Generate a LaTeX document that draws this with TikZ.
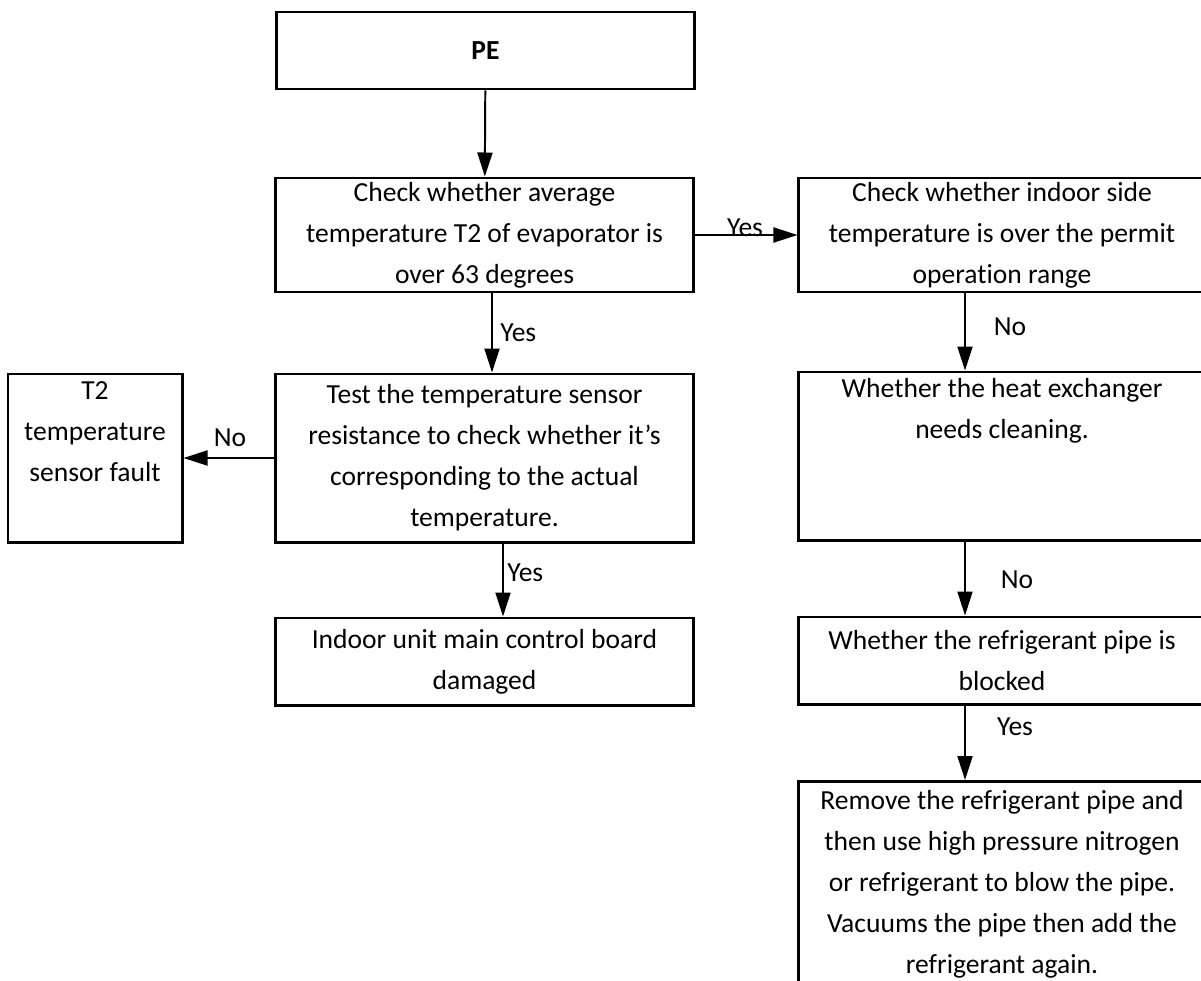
\documentclass[tikz,border=0pt]{standalone}
\usepackage{fontspec}
\setmainfont{Carlito}[Ligatures=NoCommon]
\usetikzlibrary{arrows.meta}
\newcommand\flowfont{\fontsize{19.6}{29.16}\selectfont}

\begin{document}
\begin{tikzpicture}[x=0.025cm, y=-0.025cm,
  every node/.style={font=\flowfont},
  box/.style={draw, line width=2.1pt, align=center, inner sep=0pt},
  midbox/.style={box, minimum width=10.425cm},
  rbox/.style={box, minimum width=10.15cm},
  arr/.style={line width=1.4pt, -{Triangle[length=0.6cm,width=0.375cm]}},
  lbl/.style={inner sep=0pt}]
\path[use as bounding box, clip] (0,0) rectangle (1201,980);

\node[midbox, minimum height=1.925cm, font=\flowfont\bfseries] (pe) at (485.5,50.5) {PE};
\node[midbox, minimum height=2.85cm] (check) at (484.5,235) {Check whether average\\temperature T2 of evaporator is\\over 63 degrees};
\node[rbox, minimum height=2.85cm] (side) at (1002,235) {Check whether indoor side\\temperature is over the permit\\operation range};
\node[midbox, minimum height=4.2cm] (test) at (484.5,458) {Test the temperature sensor\\resistance to check whether it’s\\corresponding to the actual\\temperature.};
\node[box, minimum width=4.35cm, minimum height=4.2cm] (sensor) at (95,458) {T2\\temperature\\sensor fault\\\strut};
\node[rbox, minimum height=4.2cm] (heat) at (1002,456) {Whether the heat exchanger\\needs cleaning.\\\strut\\\strut};
\node[midbox, minimum height=2.175cm] (board) at (484.5,661.5) {Indoor unit main control board\\damaged};
\node[rbox, minimum height=2.175cm] (pipe) at (1002,660.5) {Whether the refrigerant pipe is\\blocked};
\node[rbox, minimum height=5.15cm, anchor=north] (blow) at (1002,780) {Remove the refrigerant pipe and\\then use high pressure nitrogen\\or refrigerant to blow the pipe.\\Vacuums the pipe then add the\\refrigerant again.};

\coordinate (c1) at (492,0);
\coordinate (c2) at (503,0);
\coordinate (c3) at (965,0);

\draw[arr] (pe) -- (check);
\draw[arr] (check.east) -- (side.west);
\draw[arr] (check.south -| c1) -- (test.north -| c1);
\draw[arr] (test.west) -- (sensor.east);
\draw[arr] (test.south -| c2) -- (board.north -| c2);
\draw[arr] (side.south -| c3) -- (heat.north -| c3);
\draw[arr] (heat.south -| c3) -- (pipe.north -| c3);
\draw[arr] (pipe.south -| c3) -- (blow.north -| c3);

\node[lbl, anchor=base] (yesright) at (745,236) {Yes};
\node[lbl, anchor=west] (yestest) at (500,333) {Yes};
\node[lbl] (nosensor) at (230,438) {No};
\node[lbl] (noheat) at (1010,327) {No};
\node[lbl] (nopipe) at (1017,580) {No};
\node[lbl] (yesblow) at (1015,727) {Yes};
\node[lbl, anchor=west] (yesboard) at (507,573) {Yes};
\end{tikzpicture}
\end{document}
